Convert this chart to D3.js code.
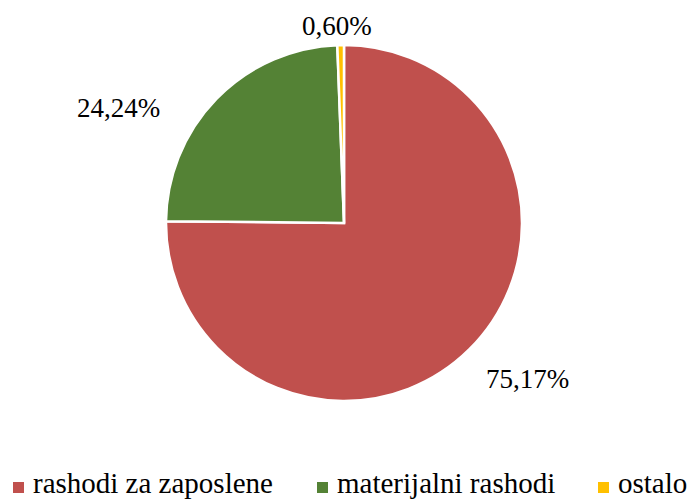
<!DOCTYPE html>
<html>
<head>
<script src="https://cdn.jsdelivr.net/npm/d3@7"></script>
</head>
<body style="margin:0">
<svg id="pie" width="688" height="500"></svg>
<script>
// chart data
const categories = ["rashodi za zaposlene", "materijalni rashodi", "ostalo"];
const shares = [75.17, 24.24, 0.60];
const labels = ["75,17%", "24,24%", "0,60%"];
const colors = ["#C0504D", "#548235", "#FFC000"];

const svg = d3.select("#pie");
const cx = 344, cy = 223, radius = 178;

const pie = d3.pie().sort(null).value(d => d).startAngle(0).endAngle(2 * Math.PI);
const arcs = pie(shares);

const arc = d3.arc().innerRadius(0).outerRadius(radius);
const labelArc = d3.arc().innerRadius(radius + 36).outerRadius(radius + 36);

svg.selectAll("path.slice")
    .data(arcs)
    .enter().append("path")
    .attr("class", "slice")
    .attr("transform", `translate(${cx},${cy})`)
    .attr("d", arc)
    .attr("fill", (d, i) => colors[i])
    .attr("stroke", "#fff")
    .attr("stroke-width", 2.5)
    .attr("stroke-linejoin", "miter");

// Excel "best fit" label placement, nudged from the centroid
const nudge = [[33, 4], [-72, 34], [-3, 17]];

arcs.forEach((d, i) => {
    const c = labelArc.centroid(d);
    svg.append("text")
        .attr("x", cx + c[0] + nudge[i][0])
        .attr("y", cy + c[1] + nudge[i][1] + 9)
        .attr("text-anchor", "middle")
        .style("font-family", "\"Liberation Serif\"")
        .style("font-size", "27px")
        .text(labels[i]);
});

// legend (item offsets taken from the original layout)
const legendX = [13, 317, 598];
categories.forEach((c, i) => {
    svg.append("rect")
        .attr("x", legendX[i])
        .attr("y", 482)
        .attr("width", 11)
        .attr("height", 11)
        .attr("fill", colors[i]);
    svg.append("text")
        .attr("x", legendX[i] + 20)
        .attr("y", 493)
        .style("font-family", "\"Liberation Serif\"")
        .style("font-size", "29px")
        .text(c);
});
</script>
</body>
</html>
